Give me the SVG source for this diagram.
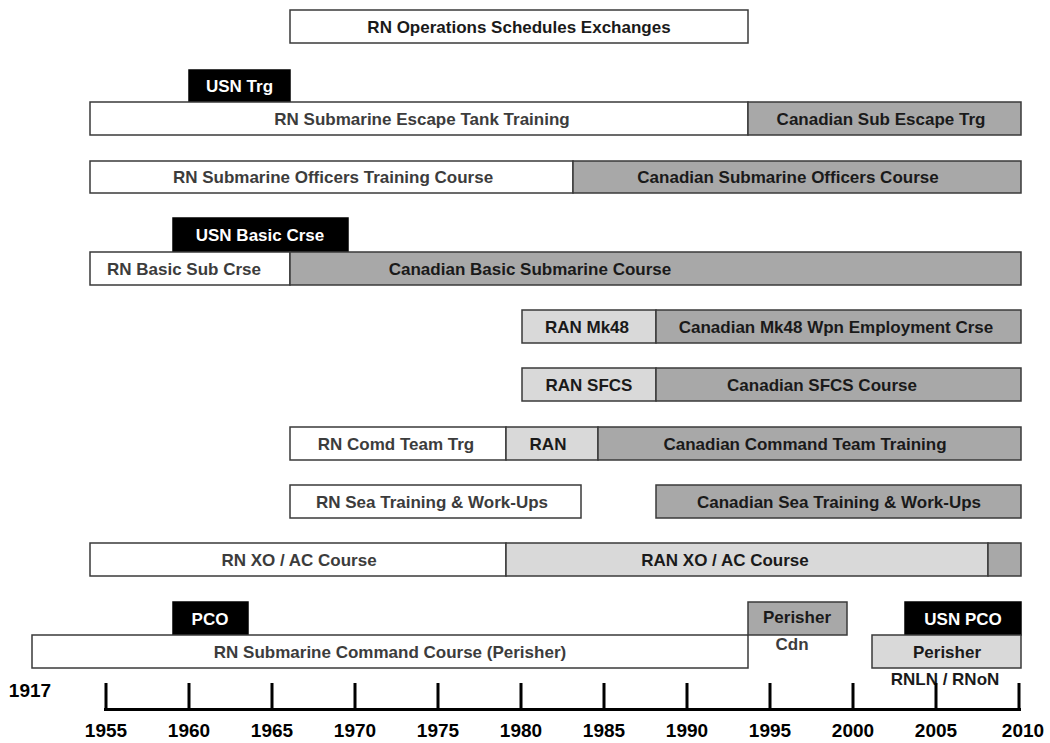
<svg xmlns="http://www.w3.org/2000/svg" width="1050" height="743" viewBox="0 0 1050 743">
<style>
rect{stroke:#3a3a3a;stroke-width:1.5}
.w{fill:#fff}.g{fill:#a8a8a8}.l{fill:#d9d9d9}.k{fill:#000;stroke:#000}
text{font-family:"Liberation Sans",Arial,sans-serif;font-weight:bold;font-size:17px;text-anchor:middle;fill:#1a1a1a}
.tw{fill:#3c3c3c}.tk{fill:#fff}
.yr{font-size:19px;fill:#000}
.ax{stroke:#000;stroke-width:3;fill:none}
</style>
<g id="ops"><rect class="w" x="290" y="10" width="458" height="33"/><text x="519" y="32.5">RN Operations Schedules Exchanges</text></g>
<g id="usn-trg"><rect class="k" x="189" y="70" width="101" height="32"/><text class="tk" x="239.5" y="92">USN Trg</text></g>
<g id="escape-rn"><rect class="w" x="90" y="102" width="658" height="33"/><text class="tw" x="422" y="124.5">RN Submarine Escape Tank Training</text></g>
<g id="escape-cdn"><rect class="g" x="748" y="102" width="273" height="33"/><text x="881" y="124.5">Canadian Sub Escape Trg</text></g>
<g id="sotc-rn"><rect class="w" x="90" y="161" width="483" height="32"/><text class="tw" x="333" y="183">RN Submarine Officers Training Course</text></g>
<g id="sotc-cdn"><rect class="g" x="573" y="161" width="448" height="32"/><text x="788" y="183">Canadian Submarine Officers Course</text></g>
<g id="usn-basic"><rect class="k" x="173" y="218" width="175" height="34"/><text class="tk" x="260" y="241">USN Basic Crse</text></g>
<g id="basic-rn"><rect class="w" x="90" y="252" width="200" height="33"/><text class="tw" x="184" y="274.5">RN Basic Sub Crse</text></g>
<g id="basic-cdn"><rect class="g" x="290" y="252" width="731" height="33"/><text x="530" y="274.5">Canadian Basic Submarine Course</text></g>
<g id="ran-mk48"><rect class="l" x="522" y="310" width="134" height="33"/><text x="587" y="332.5">RAN Mk48</text></g>
<g id="mk48-cdn"><rect class="g" x="656" y="310" width="365" height="33"/><text x="836" y="332.5">Canadian Mk48 Wpn Employment Crse</text></g>
<g id="ran-sfcs"><rect class="l" x="522" y="368" width="134" height="33"/><text x="589" y="390.5">RAN SFCS</text></g>
<g id="sfcs-cdn"><rect class="g" x="656" y="368" width="365" height="33"/><text x="822" y="390.5">Canadian SFCS Course</text></g>
<g id="ctt-rn"><rect class="w" x="290" y="427" width="216" height="33"/><text class="tw" x="396" y="449.5">RN Comd Team Trg</text></g>
<g id="ctt-ran"><rect class="l" x="506" y="427" width="92" height="33"/><text x="548" y="449.5">RAN</text></g>
<g id="ctt-cdn"><rect class="g" x="598" y="427" width="423" height="33"/><text x="805" y="449.5">Canadian Command Team Training</text></g>
<g id="sea-rn"><rect class="w" x="290" y="485" width="291" height="33"/><text class="tw" x="432" y="507.5">RN Sea Training &amp; Work-Ups</text></g>
<g id="sea-cdn"><rect class="g" x="656" y="485" width="365" height="33"/><text x="839" y="507.5">Canadian Sea Training &amp; Work-Ups</text></g>
<g id="xo-rn"><rect class="w" x="90" y="543" width="416" height="33"/><text class="tw" x="299" y="565.5">RN XO / AC Course</text></g>
<g id="xo-ran"><rect class="l" x="506" y="543" width="482" height="33"/><text x="725" y="565.5">RAN XO / AC Course</text></g>
<g id="xo-cdn"><rect class="g" x="988" y="543" width="33" height="33"/></g>
<g id="pco"><rect class="k" x="173" y="602" width="75" height="33"/><text class="tk" x="210" y="624.5">PCO</text></g>
<g id="perisher-rn"><rect class="w" x="32" y="635" width="716" height="33"/><text class="tw" x="390" y="657.5">RN Submarine Command Course (Perisher)</text></g>
<g id="perisher-cdn"><rect class="g" x="748" y="602" width="99" height="33"/><text x="797" y="623">Perisher</text><text class="tw" x="792" y="650">Cdn</text></g>
<g id="usn-pco"><rect class="k" x="905" y="602" width="116" height="33"/><text class="tk" x="963" y="624.5">USN PCO</text></g>
<g id="perisher-nl"><rect class="l" x="872" y="635" width="149" height="33"/><text x="947" y="657.5">Perisher</text><text x="945" y="685">RNLN / RNoN</text></g>
<g id="axis">
<path class="ax" d="M104 709.5H1021" stroke-width="4"/>
<path class="ax" d="M106 683V709M189 683V709M272 683V709M355 683V709M438 683V709M521 683V709M604 683V709M687 683V709M770 683V709M853 683V709M936 683V709M1019 683V709"/>
<text class="yr" x="30" y="697">1917</text>
<text class="yr" x="106" y="737">1955</text><text class="yr" x="189" y="737">1960</text><text class="yr" x="272" y="737">1965</text><text class="yr" x="355" y="737">1970</text><text class="yr" x="438" y="737">1975</text><text class="yr" x="521" y="737">1980</text><text class="yr" x="604" y="737">1985</text><text class="yr" x="687" y="737">1990</text><text class="yr" x="770" y="737">1995</text><text class="yr" x="853" y="737">2000</text><text class="yr" x="936" y="737">2005</text><text class="yr" x="1023" y="737">2010</text>
</g>
</svg>
